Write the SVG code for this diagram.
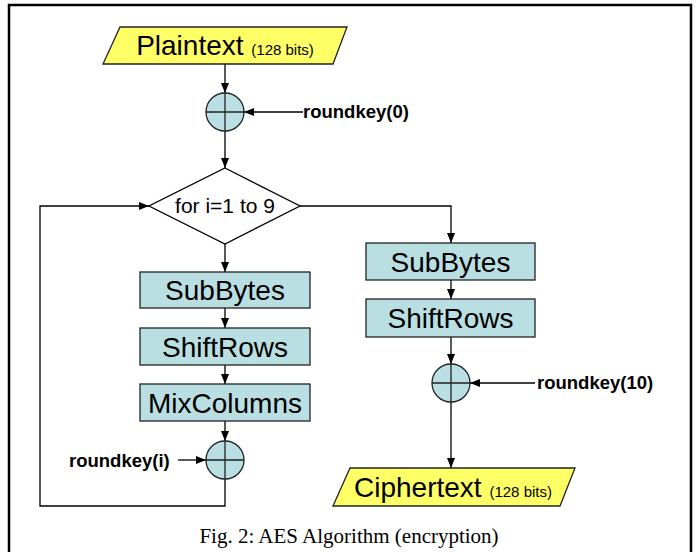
<svg xmlns="http://www.w3.org/2000/svg" width="700" height="552" viewBox="0 0 700 552">
<defs>
<marker id="ah" markerUnits="userSpaceOnUse" markerWidth="10" markerHeight="10" viewBox="0 0 10 10" refX="10" refY="5" orient="auto">
<path d="M0,1 L10,5 L0,9 Z" fill="#000"/>
</marker>
</defs>
<style>
.c{fill:none;stroke:#000;stroke-width:1.3}
.a{marker-end:url(#ah)}
.box{fill:#b9dfe3;stroke:#222;stroke-width:1.3}
.io{fill:#ffff66;stroke:#222;stroke-width:1.3}
.x{fill:#b9dfe3;stroke:#222;stroke-width:1.3}
.xl{stroke:#222;stroke-width:1.3}
.t{font-family:"Liberation Sans",Arial,sans-serif;fill:#000}
.bt{font-family:"Liberation Sans",Arial,sans-serif;font-weight:bold;font-size:18.5px;fill:#000}
.cap{font-family:"Liberation Serif","Times New Roman",serif;font-size:21px;fill:#000}
</style>
<rect width="700" height="552" fill="#fff"/>
<path d="M9,552 V5 H691 V552" fill="none" stroke="#000" stroke-width="2.5"/>

<g id="connectors">
<path class="c a" d="M225,64 V93"/>
<path class="c a" d="M303,112 H244"/>
<path class="c a" d="M225,131 V168"/>
<path class="c a" d="M225,244 V272"/>
<path class="c a" d="M225,308 V328"/>
<path class="c a" d="M225,365 V384"/>
<path class="c a" d="M225,421 V441"/>
<path class="c a" d="M178,460 H206"/>
<path class="c a" d="M225,479 V506 H40 V206 H149"/>
<path class="c a" d="M300,206 H451 V243"/>
<path class="c a" d="M451,280 V299"/>
<path class="c a" d="M451,337 V364"/>
<path class="c a" d="M535,383 H470"/>
<path class="c a" d="M451,402 V468"/>
</g>

<g id="plaintext">
<polygon class="io" points="120,27 347,27 333,64 103,64"/>
<text class="t" x="225" y="55" text-anchor="middle" font-size="28">Plaintext <tspan font-size="15">(128 bits)</tspan></text>
</g>

<g id="xor0">
<circle class="x" cx="225" cy="112" r="19"/>
<path class="xl" d="M206,112 H244 M225,93 V131"/>
<text class="bt" x="303" y="118">roundkey(0)</text>
</g>

<g id="loop">
<polygon fill="#fff" stroke="#000" stroke-width="1.3" points="225,168 300,206 225,244 149,206"/>
<text class="t" x="225" y="213" text-anchor="middle" font-size="21">for i=1 to 9</text>
</g>

<g id="subbytes1">
<rect class="box" x="140" y="272" width="170" height="36"/>
<text class="t" x="225" y="300" text-anchor="middle" font-size="28">SubBytes</text>
</g>
<g id="shiftrows1">
<rect class="box" x="140" y="328" width="170" height="37"/>
<text class="t" x="225" y="357" text-anchor="middle" font-size="28">ShiftRows</text>
</g>
<g id="mixcolumns">
<rect class="box" x="140" y="384" width="170" height="37"/>
<text class="t" x="225" y="413" text-anchor="middle" font-size="28">MixColumns</text>
</g>

<g id="xori">
<circle class="x" cx="225" cy="460" r="19"/>
<path class="xl" d="M206,460 H244 M225,441 V479"/>
<text class="bt" x="69" y="467">roundkey(i)</text>
</g>

<g id="subbytes2">
<rect class="box" x="366" y="243" width="169" height="37"/>
<text class="t" x="450.5" y="272" text-anchor="middle" font-size="28">SubBytes</text>
</g>
<g id="shiftrows2">
<rect class="box" x="366" y="299" width="169" height="38"/>
<text class="t" x="450.5" y="328" text-anchor="middle" font-size="28">ShiftRows</text>
</g>

<g id="xor10">
<circle class="x" cx="451" cy="383" r="19"/>
<path class="xl" d="M432,383 H470 M451,364 V402"/>
<text class="bt" x="537" y="389">roundkey(10)</text>
</g>

<g id="ciphertext">
<polygon class="io" points="350,468 575,468 560,506 333,506"/>
<text class="t" x="453" y="497" text-anchor="middle" font-size="28">Ciphertext <tspan font-size="15">(128 bits)</tspan></text>
</g>

<text class="cap" x="349" y="543" text-anchor="middle">Fig. 2: AES Algorithm (encryption)</text>
</svg>
